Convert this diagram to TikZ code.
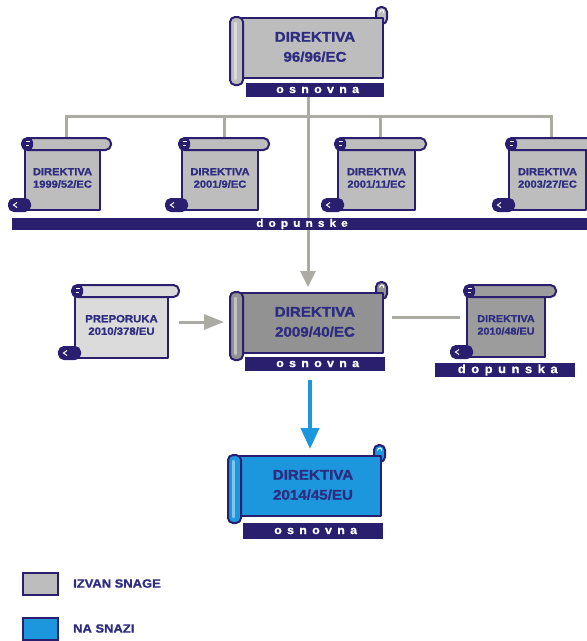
\documentclass[tikz,border=0pt]{standalone}
\usepackage{fontspec}
\setmainfont{Liberation Sans Bold}[FakeStretch=1.08,FakeBold=1.3]
\newfontfamily\spaced{Liberation Sans Bold}[LetterSpace=46,FakeStretch=1.08,FakeBold=1]
\usetikzlibrary{arrows.meta}
\definecolor{navy}{HTML}{2A1E6E}
\definecolor{txt}{HTML}{2E2C80}
\definecolor{lg}{HTML}{BDBDBD}
\definecolor{pg}{HTML}{DBDBDB}
\definecolor{dg}{HTML}{929292}
\definecolor{dg2}{HTML}{9C9C9C}
\definecolor{bl}{HTML}{1C96DC}
\definecolor{con}{HTML}{ABABA3}
\pgfdeclarelayer{bg}
\pgfsetlayers{bg,main}
\tikzset{
  sc/.style={draw=navy, line width=2pt, line join=round},
  conn/.style={draw=con, line width=3pt},
  bar/.style={fill=navy, inner sep=0pt, text=white, font=\spaced\fontsize{#1}{#1}\selectfont},
  bar/.default=11.5,
  bigtxt/.style={text=txt, align=center, inner sep=0pt, font=\fontsize{14}{20}\selectfont},
  smalltxt/.style={text=txt, align=center, inner sep=0pt, font=\fontsize{#1}{12.5}\selectfont},
  legbox/.style={draw=navy, line width=2pt, minimum width=35pt, minimum height=22pt, inner sep=0pt},
  legtxt/.style={text=txt, inner sep=0pt, anchor=west, font=\fontsize{12}{14}\selectfont},
}
% big horizontal scroll: x, y (body top-left), fill, name, text
\newcommand\bigscroll[5]{%
  \begin{scope}[shift={(#1,#2)}]
    \draw[sc, fill=#3, rounded corners=5] (140,-11) rectangle (151,6);
    \draw[white, line width=0.9pt] (143.5,-5.5) .. controls (144.5,-9) and (148,-9) .. (147.8,-5);
    \draw[sc, fill=#3] (0,0) rectangle (147,60);
    \draw[sc, fill=#3, rounded corners=5] (-6,-1) rectangle (7,67);
    \draw[white, opacity=0.45, line width=2.5pt, line cap=round] (-0.5,5) -- (-0.5,61);
    \node[bigtxt] (#4) at (79,29) {#5};
  \end{scope}}
% small vertical scroll: x, y (body top-left), width, height, fill, name, text, font size
\newcommand\smallscroll[8]{%
  \begin{scope}[shift={(#1,#2)}]
    \draw[sc, fill=#5] (0,-2) rectangle (#3,#4);
    \draw[sc, fill=navy, rounded corners=5] (-16,{#4-11}) rectangle (5,{#4+1});
    \draw[white, line width=1pt] (-8,{#4-7.5}) -- (-11.5,{#4-5}) -- (-8,{#4-2.5});
    \draw[sc, fill=#5, rounded corners=5.5] (-3,-12) rectangle ({#3+11},0);
    \fill[navy, rounded corners=4] (-3,-12) rectangle (8,0);
    \draw[white, line width=0.8pt] (1,-8.5) -- (5,-8.5) (1,-4.5) -- (4,-4.5);
    \coordinate (#6-t) at ({(#3+8)/2},-12);
    \node[smalltxt=#8] (#6) at ({#3/2},28) {#7};
  \end{scope}}
\begin{document}
\begin{tikzpicture}[x=1pt,y=-1pt]
\useasboundingbox (0,0) rectangle (587,641);
\clip (0,0) rectangle (587,641);

% scrolls
\bigscroll{236}{18}{lg}{d1}{DIREKTIVA\\96/96/EC}
\smallscroll{25}{150}{75}{60}{lg}{s1}{DIREKTIVA\\1999/52/EC}{10.3}
\smallscroll{182}{150}{76}{60}{lg}{s2}{DIREKTIVA\\2001/9/EC}{10.3}
\smallscroll{338}{150}{77}{60}{lg}{s3}{DIREKTIVA\\2001/11/EC}{10.3}
\smallscroll{509}{150}{77}{60}{lg}{s4}{DIREKTIVA\\2003/27/EC}{10.3}
\smallscroll{75}{297}{93}{61}{pg}{p1}{PREPORUKA\\2010/378/EU}{10.5}
\bigscroll{236}{293}{dg}{d2}{DIREKTIVA\\2009/40/EC}
\smallscroll{467}{297}{78}{60}{dg2}{s5}{DIREKTIVA\\2010/48/EU}{10}
\bigscroll{234}{456}{bl}{d3}{DIREKTIVA\\2014/45/EU}

% bars
\node[bar, minimum width=138pt, minimum height=14pt] (b1) at (315,90) {\kern.46em osnovna};
\node[bar=11, minimum width=575pt, minimum height=12pt] (b2) at (299.5,224) {\kern.46em dopunske};
\node[bar, minimum width=140pt, minimum height=14pt] (b3) at (315,364) {\kern.46em osnovna};
\node[bar=12, minimum width=140pt, minimum height=14pt] (b4) at (505,370) {\kern.46em dopunska};
\node[bar, minimum width=140pt, minimum height=16pt] (b5) at (313,531) {\kern.46em osnovna};

% connector end points
\coordinate (hl) at (0,116);
\coordinate (c1) at (308,97);
\coordinate (c2) at (308,287);
\coordinate (pr) at (179,322);
\coordinate (d2w) at (224,322);
\coordinate (d2e) at (392,317);
\coordinate (s5w) at (460,317);
\coordinate (d2s) at (310,380);
\coordinate (d3n) at (310,449);

\begin{pgfonlayer}{bg}
  \draw[conn] (s1-t) -- (s1-t |- hl) -- (s4-t |- hl) -- (s4-t);
  \draw[conn] (s2-t) -- (s2-t |- hl);
  \draw[conn] (s3-t) -- (s3-t |- hl);
  \draw[conn, -{Triangle[length=16pt,width=15pt]}] (c1) -- (c2);
  \draw[conn, -{Triangle[length=20pt,width=15pt]}] (pr) -- (d2w);
  \draw[conn] (d2e) -- (s5w);
\end{pgfonlayer}
\draw[draw=bl, line width=4pt, -{Triangle[length=21pt,width=18pt]}] (d2s) -- (d3n);

% legend
\node[legbox, fill=lg] (l1) at (40,583.5) {};
\node[legtxt] (l1t) at (73,583.5) {IZVAN SNAGE};
\node[legbox, fill=bl] (l2) at (40,629) {};
\node[legtxt] (l2t) at (73,628.5) {NA SNAZI};
\end{tikzpicture}
\end{document}
